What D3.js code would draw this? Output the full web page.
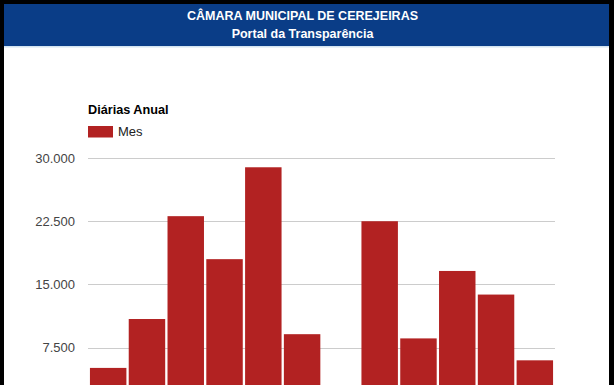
<!DOCTYPE html>
<html>
<head>
<meta charset="utf-8">
<script src="https://cdn.jsdelivr.net/npm/d3@7"></script>
<style>
  html, body { margin: 0; padding: 0; background: #000; overflow: hidden; }
  svg { display: block; font-family: Arial, "Liberation Sans", sans-serif; }
</style>
</head>
<body>
<div id="chart"></div>
<script>
// Data
var months = ["Jan", "Fev", "Mar", "Abr", "Mai", "Jun", "Jul", "Ago", "Set", "Out", "Nov", "Dez"];
var values = [5100, 10900, 23100, 18000, 28900, 9100, 0, 22500, 8600, 16600, 13800, 6000];
var yTicks = [7500, 15000, 22500, 30000];
var seriesName = "Mes";
var chartTitle = "Diárias Anual";
var headerLines = ["CÂMARA MUNICIPAL DE CEREJEIRAS", "Portal da Transparência"];

// Setup
var W = 614, H = 385;
var plot = { left: 88, right: 555, top: 158, bottom: 410.9 };
var barColor = "#b22222";

var svg = d3.select("#chart")
  .append("svg")
  .attr("width", W)
  .attr("height", H);

// page frame
svg.append("rect").attr("width", W).attr("height", H).attr("fill", "#000");
svg.append("rect").attr("x", 4).attr("y", 4).attr("width", 605).attr("height", H).attr("fill", "#fff");

// header
svg.append("rect").attr("x", 4).attr("y", 4).attr("width", 605).attr("height", 42).attr("fill", "#0a3d87");
svg.append("rect").attr("x", 4).attr("y", 46).attr("width", 605).attr("height", 1.5).attr("fill", "#d3e4f1");
svg.selectAll(".hdr")
  .data(headerLines)
  .enter()
  .append("text")
  .attr("class", "hdr")
  .attr("x", 302.5)
  .attr("y", function(d, i) { return 19.5 + i * 18; })
  .attr("text-anchor", "middle")
  .attr("fill", "#fff")
  .style("font-size", "12.5px")
  .style("font-weight", "bold")
  .text(function(d) { return d; });

// scales
var xScale = d3.scaleBand()
  .domain(months)
  .range([plot.left, plot.right])
  .paddingInner(0.06)
  .paddingOuter(0.05);
var yScale = d3.scaleLinear()
  .domain([0, 30000])
  .range([plot.bottom, plot.top]);

var br = d3.formatLocale({ decimal: ",", thousands: ".", grouping: [3], currency: ["R$", ""] });

// Y-Axis with gridlines (the 0 line and month labels fall below the window)
var yAxis = d3.axisLeft(yScale)
  .tickValues(yTicks)
  .tickSize(-(plot.right - plot.left))
  .tickPadding(13)
  .tickFormat(br.format(","));
var gy = svg.append("g")
  .attr("transform", "translate(" + plot.left + ",0)")
  .call(yAxis);
gy.select(".domain").remove();
gy.selectAll(".tick line").attr("stroke", "#cccccc").attr("shape-rendering", "crispEdges");
gy.selectAll(".tick text")
  .attr("fill", "#444")
  .style("font-size", "13px")
  .style("font-family", "Arial, 'Liberation Sans', sans-serif");

// Bars
svg.selectAll(".bar")
  .data(values)
  .enter()
  .append("rect")
  .attr("class", "bar")
  .attr("x", function(d, i) { return xScale(months[i]); })
  .attr("y", function(d) { return yScale(d); })
  .attr("width", xScale.bandwidth())
  .attr("height", function(d) { return yScale(0) - yScale(d); })
  .attr("fill", barColor);

// Title
svg.append("text")
  .attr("x", 88)
  .attr("y", 114)
  .attr("fill", "#000")
  .style("font-size", "12.7px")
  .style("font-weight", "bold")
  .text(chartTitle);

// Legend
svg.append("rect")
  .attr("x", 88)
  .attr("y", 126)
  .attr("width", 25)
  .attr("height", 11.5)
  .attr("fill", barColor);
svg.append("text")
  .attr("x", 118)
  .attr("y", 136)
  .attr("fill", "#222")
  .style("font-size", "13px")
  .text(seriesName);
</script>
</body>
</html>
